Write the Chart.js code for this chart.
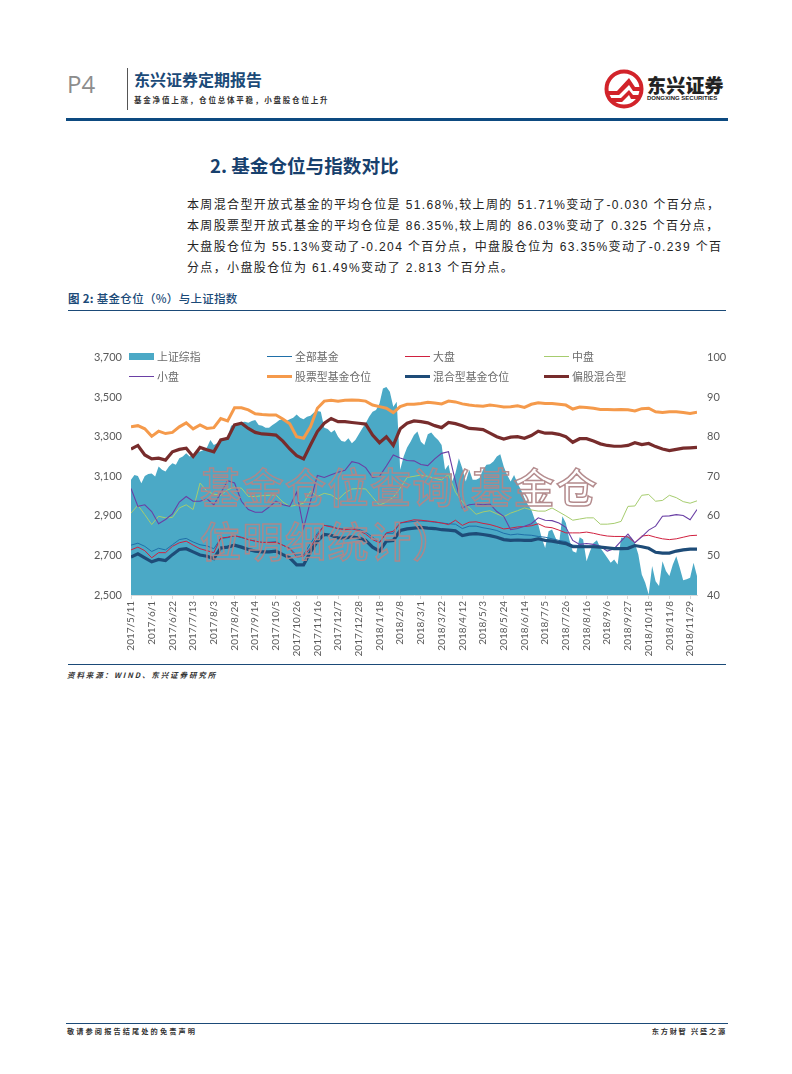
<!DOCTYPE html>
<html lang="zh">
<head>
<meta charset="utf-8">
<title>基金仓位与上证指数</title>
<script src="https://cdn.jsdelivr.net/npm/chart.js@4"></script>
<style>
html, body { margin: 0; padding: 0; background: #fff; }
body { width: 792px; height: 1074px; position: relative; overflow: hidden; font-family: "Noto Sans CJK SC", sans-serif; }
.abs { position: absolute; white-space: nowrap; }
.rule { position: absolute; }
#chart-canvas { position: absolute; left: 90px; top: 341px; }
.legend-text { position: absolute; font-size: 10.9px; line-height: 14px; color: #6b6b6b; white-space: nowrap; }
.legend-swatch { position: absolute; }
.body-line { position: absolute; left: 187px; font-size: 12px; line-height: 16px; color: #222; white-space: nowrap; letter-spacing: 1.37px; font-family: "Liberation Sans", "Noto Sans CJK SC", sans-serif; }
.watermark { position: absolute; white-space: nowrap; font-size: 41px; line-height: 50px; font-weight: 500; color: transparent; -webkit-text-stroke: 1.5px rgba(176, 134, 136, 0.95); letter-spacing: 1.5px; }
</style>
</head>
<body>

<!-- page header -->
<div class="abs" style="left:67px;top:68px;font:24px/32px 'Open Sans',sans-serif;color:#8c8c8c;">P4</div>
<div class="rule" style="left:127px;top:68px;width:1px;height:42px;background:#555;"></div>
<div class="abs" style="left:134px;top:69px;font-size:16px;line-height:20px;font-weight:700;color:#1b4a78;">东兴证券定期报告</div>
<div class="abs" style="left:134px;top:95px;font-size:7.5px;line-height:10px;font-weight:700;color:#333;letter-spacing:1.8px;">基金净值上涨，仓位总体平稳，小盘股仓位上升</div>
<svg class="abs" style="left:603px;top:68px;" width="44" height="42" viewBox="0 0 44 42">
  <circle cx="21" cy="21" r="17.5" fill="#fff" stroke="#d2232a" stroke-width="4"/>
  <path d="M4 23 L14 23 L26 10 L32 19 L39 19 L39 23 L30 23 L26 17 L16 27 L5 27 Z" fill="#d2232a"/>
  <path d="M7 30 L18 30 L26 22 L30 27 L36 27 L34 31 L28 31 L26 27 L19 34 L10 34 Z" fill="#d2232a"/>
</svg>
<div class="abs" style="left:647px;top:72px;font-size:19px;line-height:26px;font-weight:900;color:#222;letter-spacing:0.2px;">东兴证券</div>
<div class="abs" style="left:647px;top:94px;font:700 6px/9px 'Liberation Sans',sans-serif;color:#222;">DONGXING SECURITIES</div>
<div class="rule" style="left:66px;top:118px;width:662px;height:3px;background:#0d4a80;"></div>

<!-- section title and text -->
<div class="abs" style="left:210px;top:151px;font-size:18.6px;line-height:27px;font-weight:700;color:#17406d;">2. 基金仓位与指数对比</div>
<div class="body-line" style="top:197px;">本周混合型开放式基金的平均仓位是 51.68%,较上周的 51.71%变动了-0.030 个百分点，</div>
<div class="body-line" style="top:218px;">本周股票型开放式基金的平均仓位是 86.35%,较上周的 86.03%变动了 0.325 个百分点，</div>
<div class="body-line" style="top:239px;">大盘股仓位为 55.13%变动了-0.204 个百分点，中盘股仓位为 63.35%变动了-0.239 个百</div>
<div class="body-line" style="top:260px;">分点，小盘股仓位为 61.49%变动了 2.813 个百分点。</div>
<div class="abs" style="left:68px;top:291px;font-size:11.5px;line-height:15px;font-weight:500;color:#1b4a78;letter-spacing:0.3px;"><b>图 2:</b> 基金仓位（%）与上证指数</div>
<div class="rule" style="left:68px;top:310px;width:658px;height:1px;background:#1b4a78;"></div>

<!-- chart -->
<canvas id="chart-canvas" width="640" height="320"></canvas>
<div id="legend"></div>
<div class="watermark" style="left:200px;top:460px;">基金仓位查询(基金仓</div>
<div class="watermark" style="left:200px;top:514px;">位明细统计）</div>

<!-- footer of chart and page -->
<div class="rule" style="left:68px;top:664px;width:658px;height:1px;background:#1b4a78;"></div>
<div class="abs" style="left:67px;top:669px;font-size:7.5px;line-height:11px;font-style:italic;font-weight:700;color:#333;letter-spacing:1.9px;">资料来源：WIND、东兴证券研究所</div>
<div class="rule" style="left:66px;top:1023px;width:662px;height:1px;background:#1b4a78;"></div>
<div class="abs" style="left:67px;top:1026px;font-size:7.2px;line-height:11px;font-weight:700;color:#333;letter-spacing:2.1px;">敬请参阅报告结尾处的免责声明</div>
<div class="abs" style="right:65px;top:1026px;font-size:7.2px;line-height:11px;font-weight:700;color:#333;letter-spacing:1.8px;">东方财智 兴盛之源</div>

<script>
// Tick labels, one every 3 weeks
const tickLabels = ['2017/5/11', '2017/6/1', '2017/6/22', '2017/7/13', '2017/8/3', '2017/8/24', '2017/9/14', '2017/10/5', '2017/10/26', '2017/11/16', '2017/12/7', '2017/12/28', '2018/1/18', '2018/2/8', '2018/3/1', '2018/3/22', '2018/4/12', '2018/5/3', '2018/5/24', '2018/6/14', '2018/7/5', '2018/7/26', '2018/8/16', '2018/9/6', '2018/9/27', '2018/10/18', '2018/11/8', '2018/11/29'];
const leftTicks = ['2,500', '2,700', '2,900', '3,100', '3,300', '3,500', '3,700'];
const seriesNames = ['上证综指', '全部基金', '大盘', '中盘', '小盘', '股票型基金仓位', '混合型基金仓位', '偏股混合型'];

// Shanghai index, read twice per week
const indexValues = [3082, 3107, 3102, 3065, 3102, 3111, 3114, 3099, 3149, 3133, 3124, 3149, 3166, 3158, 3191, 3200, 3216, 3200, 3208, 3225, 3225, 3233, 3245, 3284, 3258, 3267, 3279, 3292, 3300, 3356, 3362, 3368, 3373, 3376, 3371, 3379, 3384, 3359, 3356, 3346, 3346, 3359, 3371, 3384, 3389, 3379, 3389, 3396, 3413, 3396, 3389, 3401, 3406, 3423, 3430, 3426, 3345, 3339, 3322, 3334, 3300, 3279, 3275, 3292, 3267, 3284, 3312, 3342, 3368, 3401, 3426, 3435, 3468, 3544, 3552, 3527, 3451, 3477, 3133, 3200, 3245, 3275, 3309, 3326, 3275, 3258, 3312, 3322, 3300, 3284, 3258, 3133, 3158, 3074, 3116, 3191, 3141, 3074, 3133, 3082, 3082, 3091, 3133, 3158, 3161, 3175, 3200, 3211, 3149, 3107, 3074, 3107, 3065, 3032, 2990, 2956, 2931, 2881, 2856, 2789, 2738, 2822, 2831, 2789, 2755, 2898, 2864, 2780, 2721, 2713, 2792, 2780, 2671, 2721, 2763, 2777, 2738, 2713, 2688, 2663, 2680, 2654, 2789, 2789, 2797, 2789, 2763, 2705, 2604, 2562, 2503, 2646, 2570, 2545, 2671, 2621, 2596, 2654, 2696, 2638, 2574, 2579, 2587, 2663, 2596];

// Fund positions (%), read once per week
const allFund = [52.6, 53.1, 52.3, 51, 51.8, 51.4, 52.7, 54, 54.3, 53.4, 52.7, 52.4, 51.7, 54.3, 54.5, 55, 54.5, 54, 53.6, 53.3, 53.3, 53.5, 52.6, 51.8, 50.1, 50.2, 53, 55.6, 57.6, 57.4, 56.7, 56.7, 57, 56.6, 55.9, 54.6, 53.4, 55.6, 55.6, 58.2, 58.4, 58.6, 58.7, 58.6, 58.4, 58.2, 58, 57.9, 56.8, 57.4, 57.4, 57, 56.7, 56.3, 55.6, 55.2, 55.4, 55.2, 55.1, 54.8, 54.6, 54.2, 53.8, 53.5, 52.6, 52.5, 52.4, 52.4, 52.2, 52, 51.8, 51.8, 51.9, 52.5, 52.2, 51.9, 50.9, 50.7, 50.7, 51.2, 51.5, 51.7, 51.7];
const largeCap = [51.4, 52.1, 51.2, 49.4, 50.7, 50.7, 52.3, 53.2, 53.6, 52.6, 51.7, 51.2, 50.7, 54.4, 54.6, 55, 54.6, 54, 53.6, 53.3, 53.3, 53.3, 52.6, 51.7, 49.6, 49.8, 51.9, 55.1, 57.6, 57.2, 56.8, 56.5, 56.7, 56.3, 55.4, 54, 53.2, 55.7, 56.1, 58.2, 58.6, 59, 58.9, 58.7, 58.5, 58.2, 57.8, 58.9, 57.6, 58.4, 58.5, 58.1, 57.8, 57.3, 56.7, 56.9, 57.2, 57.3, 57.5, 58, 57.2, 57, 56.4, 55.7, 55.7, 55.7, 55.9, 55.6, 55.2, 54.9, 54.8, 54.8, 54.7, 53.2, 54.9, 55.1, 54.6, 54.2, 54, 54.2, 54.6, 55, 55.1];
const midCap = [60.7, 62.7, 60.3, 57.8, 59.9, 59.5, 59.6, 62, 62.8, 61.6, 68.3, 66.2, 65.5, 65.2, 66.6, 67.3, 67, 64.9, 64.9, 65.1, 65.2, 65.3, 63.5, 62.4, 62.7, 63.2, 66.2, 64.9, 65.7, 65.3, 64.1, 65.8, 66.8, 66.9, 66.8, 64.7, 62.7, 63.5, 64.7, 67, 69.7, 70, 70.3, 70, 69.5, 69.1, 70.5, 66, 63.5, 62.1, 60.4, 61, 61.3, 60.5, 59.8, 60.7, 61.3, 62, 61.5, 61.2, 61.2, 62, 61, 60, 58.9, 59.2, 59.5, 59.5, 57.9, 57.9, 58.1, 58.6, 62.4, 62.5, 65.2, 65.4, 63.7, 63.9, 65.2, 64.6, 63.6, 63.2, 63.8];
const smallCap = [66.9, 62.4, 62.8, 61.1, 58, 59.1, 60.5, 63.5, 64.9, 63.7, 63.7, 64.3, 62.8, 65.8, 68.9, 68.3, 63.7, 61.6, 60.9, 60.9, 62.2, 63.7, 62.8, 62.4, 66, 56.9, 63.7, 70.2, 69.7, 70.4, 71, 71.5, 73.7, 73.3, 72.2, 69.7, 70, 72.6, 75.4, 74.6, 74, 73.9, 73, 72.7, 74.4, 75.8, 76.2, 68.7, 62, 62.8, 63, 62.8, 63, 61.1, 59.9, 56.5, 56.8, 57.4, 58, 59.5, 58.9, 58.8, 58.2, 57.1, 53.8, 52.8, 53, 52.8, 52.3, 51.1, 51.7, 53.6, 55.4, 53.2, 54.7, 56.4, 57.4, 59.9, 60, 60.3, 60.1, 59, 61.6];
const stockFund = [82.5, 82.8, 82, 80.1, 81.4, 80.8, 81.1, 82.5, 83.5, 82, 83, 82.1, 82.3, 84.6, 84, 87.3, 87.3, 86.8, 85.8, 85.6, 85.5, 85.5, 84.5, 83.3, 80, 79.6, 82.5, 87.2, 89, 89.2, 89, 89.2, 89.3, 89.2, 89, 88, 87.6, 87.2, 86.1, 87.6, 88.2, 88.2, 88.4, 88.7, 88.5, 88.3, 89, 88.8, 88.3, 88, 87.8, 87.7, 88, 87.8, 87.5, 87.6, 87.8, 87.4, 88.2, 88.6, 88.4, 88.4, 88.2, 88, 87, 87.5, 87.4, 87.2, 86.9, 86.9, 86.8, 86.9, 86.8, 86.5, 87.1, 87.2, 86.3, 86.1, 86.3, 86.3, 86.1, 85.9, 86.2];
const mixedFund = [49.6, 50.4, 49.4, 48.4, 49, 48.7, 50.2, 51.5, 51.7, 50.9, 50.1, 49.8, 49.2, 51.9, 52.1, 52.6, 52.1, 51.5, 51.1, 50.9, 50.9, 51.1, 50.2, 49.4, 47.6, 47.6, 50.9, 53.6, 55.3, 55.1, 54.4, 54.4, 54.7, 54.4, 53.8, 52.1, 51.1, 53.6, 53.8, 56.3, 56.7, 56.9, 57.1, 56.9, 56.8, 56.5, 56.4, 56.2, 55, 55.4, 55.5, 55.3, 55, 54.6, 54, 53.8, 53.9, 53.8, 53.8, 54.2, 53.8, 53.6, 53.3, 53, 52.2, 52.2, 52.2, 52.2, 52.1, 51.9, 51.7, 51.7, 51.8, 52.5, 52.2, 51.8, 50.8, 50.6, 50.6, 51.1, 51.4, 51.6, 51.6];
const partialStock = [76.9, 77.8, 75.4, 74.4, 74.6, 74.1, 76.2, 76.8, 77.1, 75, 77.3, 76.7, 76.2, 79.2, 79.6, 83, 83.4, 82.1, 81.1, 80.7, 80.6, 80.4, 78.9, 76.9, 75.2, 74.4, 77.9, 81.3, 83.4, 84.6, 83.8, 83.8, 83.6, 83.4, 83.2, 80.4, 78.5, 80, 77.8, 82, 83.4, 84, 83.8, 83.5, 82.8, 82.3, 83.6, 83.3, 82.8, 82.1, 82, 81.8, 80.9, 80, 79.4, 79.9, 80, 79.6, 80.3, 81.4, 80.9, 80.9, 80.6, 80, 78.6, 79.5, 79.5, 78.9, 78.2, 77.8, 77.6, 77.6, 77.8, 78.5, 78, 78.3, 77.5, 76.9, 76.5, 76.8, 77.1, 77.2, 77.3];

// Turn a series into {x, y} points, x counted in weeks from the first date
function weekly(values) {
    return values.map((v, i) => ({ x: i, y: v }));
}

function lineDataset(name, values, color, width, order) {
    return {
        type: 'line',
        label: name,
        data: weekly(values),
        yAxisID: 'y1',
        borderColor: color,
        borderWidth: width,
        pointRadius: 0,
        tension: 0,
        fill: false,
        order: order
    };
}

const xTickFont = { family: 'Lato, "Liberation Sans", sans-serif', size: 10 };
const yTickFont = { family: 'Lato, "Liberation Sans", sans-serif', size: 11 };
const tickColor = '#595959';

new Chart(document.getElementById('chart-canvas'), {
    data: {
        datasets: [
            {
                type: 'line',
                label: seriesNames[0],
                data: indexValues.map((v, i) => ({ x: i / 2, y: v })),
                yAxisID: 'y',
                borderWidth: 0,
                backgroundColor: '#4BA9C6',
                pointRadius: 0,
                tension: 0,
                fill: 'start',
                order: 8
            },
            lineDataset(seriesNames[1], allFund, '#1F6FA8', 1, 7),
            lineDataset(seriesNames[2], largeCap, '#D0203F', 1, 6),
            lineDataset(seriesNames[3], midCap, '#A6CC6E', 1, 5),
            lineDataset(seriesNames[4], smallCap, '#6A3FA5', 1.1, 4),
            lineDataset(seriesNames[5], stockFund, '#F59A4B', 3, 3),
            lineDataset(seriesNames[6], mixedFund, '#1E4C78', 3.2, 2),
            lineDataset(seriesNames[7], partialStock, '#772C2C', 3.2, 1)
        ]
    },
    options: {
        responsive: false,
        animation: false,
        layout: { autoPadding: false, padding: { top: 0, left: 0, right: 0, bottom: 0 } },
        plugins: { legend: { display: false }, tooltip: { enabled: false } },
        scales: {
            x: {
                type: 'linear',
                min: 0,
                max: 82,
                afterFit: (s) => { s.height = 66; },
                grid: { drawOnChartArea: false, drawTicks: true, tickLength: 4, color: '#D9D9D9' },
                border: { color: '#D9D9D9' },
                ticks: {
                    stepSize: 3,
                    includeBounds: false,
                    autoSkip: false,
                    minRotation: 90,
                    maxRotation: 90,
                    padding: 2,
                    font: xTickFont,
                    color: tickColor,
                    callback: (v) => tickLabels[v / 3]
                }
            },
            y: {
                position: 'left',
                min: 2500,
                max: 3700,
                afterFit: (s) => { s.width = 41; },
                grid: { display: false, drawTicks: false },
                border: { display: false },
                ticks: {
                    stepSize: 200,
                    padding: 9,
                    font: yTickFont,
                    color: tickColor,
                    callback: (v) => leftTicks[(v - 2500) / 200]
                }
            },
            y1: {
                position: 'right',
                min: 40,
                max: 100,
                afterFit: (s) => { s.width = 33; },
                grid: { display: false, drawTicks: false },
                border: { display: false },
                ticks: { stepSize: 10, padding: 10, font: yTickFont, color: tickColor }
            }
        }
    }
});

// Legend in the chart's four fixed columns
const legendBox = document.getElementById('legend');
const legendStyle = [
    { x: 129, y: 356, h: 7, c: '#4BA9C6' },
    { x: 267, y: 356, h: 1, c: '#1F6FA8' },
    { x: 405, y: 356, h: 1, c: '#D0203F' },
    { x: 544, y: 356, h: 1, c: '#A6CC6E' },
    { x: 129, y: 376, h: 1, c: '#6A3FA5' },
    { x: 267, y: 376, h: 3, c: '#F59A4B' },
    { x: 405, y: 376, h: 3, c: '#1E4C78' },
    { x: 544, y: 376, h: 3, c: '#772C2C' }
];
seriesNames.forEach((name, i) => {
    const st = legendStyle[i];
    const swatch = document.createElement('div');
    swatch.className = 'legend-swatch';
    swatch.style.cssText = `left:${st.x}px;top:${st.y - st.h / 2}px;width:25px;height:${st.h}px;background:${st.c};`;
    legendBox.appendChild(swatch);
    const text = document.createElement('div');
    text.className = 'legend-text';
    text.style.cssText = `left:${st.x + 28}px;top:${st.y - 7}px;`;
    text.textContent = name;
    legendBox.appendChild(text);
});
</script>
</body>
</html>
